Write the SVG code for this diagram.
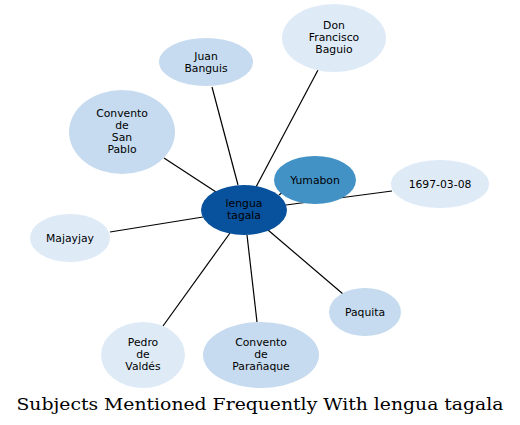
<svg xmlns="http://www.w3.org/2000/svg" width="520" height="425" viewBox="0 0 520 425">
<style>
.n text{font-family:"DejaVu Sans",sans-serif;font-size:10.8px;text-anchor:middle;fill:#000}
.e line{stroke:#000;stroke-width:1.2}
.c1{fill:#deebf7}.c2{fill:#c6dbef}.c3{fill:#4292c6}.c4{fill:#08519c}
.title{font-family:"DejaVu Serif",serif;font-size:17px;text-anchor:middle;fill:#000}
</style>
<rect width="520" height="425" fill="#fff"/>
<g id="edges" class="e">
<line x1="256" y1="187" x2="318" y2="70"/>
<line x1="238" y1="185" x2="212" y2="87"/>
<line x1="216" y1="192" x2="164" y2="158"/>
<line x1="203" y1="217" x2="110" y2="232"/>
<line x1="230" y1="233" x2="163" y2="326"/>
<line x1="247" y1="235" x2="257" y2="322"/>
<line x1="268" y1="230" x2="343" y2="294"/>
<line x1="279" y1="195" x2="283" y2="192"/>
<line x1="286" y1="205" x2="392" y2="191"/>
</g>
<g id="n_don" class="n"><ellipse class="c1" cx="334" cy="38" rx="52" ry="34"/><text x="334" y="29">Don</text><text x="334" y="41">Francisco</text><text x="334" y="53">Baguio</text></g>
<g id="n_juan" class="n"><ellipse class="c2" cx="206" cy="62" rx="47" ry="24"/><text x="206" y="59.5">Juan</text><text x="206" y="71.5">Banguis</text></g>
<g id="n_sanpablo" class="n"><ellipse class="c2" cx="122" cy="132" rx="53" ry="42"/><text x="122" y="117">Convento</text><text x="122" y="129">de</text><text x="122" y="141">San</text><text x="122" y="153">Pablo</text></g>
<g id="n_majayjay" class="n"><ellipse class="c1" cx="70" cy="238" rx="40" ry="24"/><text x="70" y="241.5">Majayjay</text></g>
<g id="n_pedro" class="n"><ellipse class="c1" cx="143" cy="355" rx="42" ry="33"/><text x="143" y="346">Pedro</text><text x="143" y="358">de</text><text x="143" y="370">Valdés</text></g>
<g id="n_paranaque" class="n"><ellipse class="c2" cx="261" cy="355" rx="58" ry="33"/><text x="261" y="346">Convento</text><text x="261" y="358">de</text><text x="261" y="370">Parañaque</text></g>
<g id="n_paquita" class="n"><ellipse class="c2" cx="365" cy="312" rx="36" ry="24"/><text x="365" y="315.5">Paquita</text></g>
<g id="n_yumabon" class="n"><ellipse class="c3" cx="315" cy="180" rx="41" ry="24"/><text x="315" y="183.5">Yumabon</text></g>
<g id="n_date" class="n"><ellipse class="c1" cx="440" cy="184" rx="49" ry="24"/><text x="440" y="187.5">1697-03-08</text></g>
<g id="n_center" class="n"><ellipse class="c4" cx="244" cy="210" rx="43" ry="25"/><text x="244" y="207">lengua</text><text x="244" y="219">tagala</text></g>
<text class="title" x="260" y="410" textLength="487" lengthAdjust="spacingAndGlyphs">Subjects Mentioned Frequently With lengua tagala</text>
</svg>
